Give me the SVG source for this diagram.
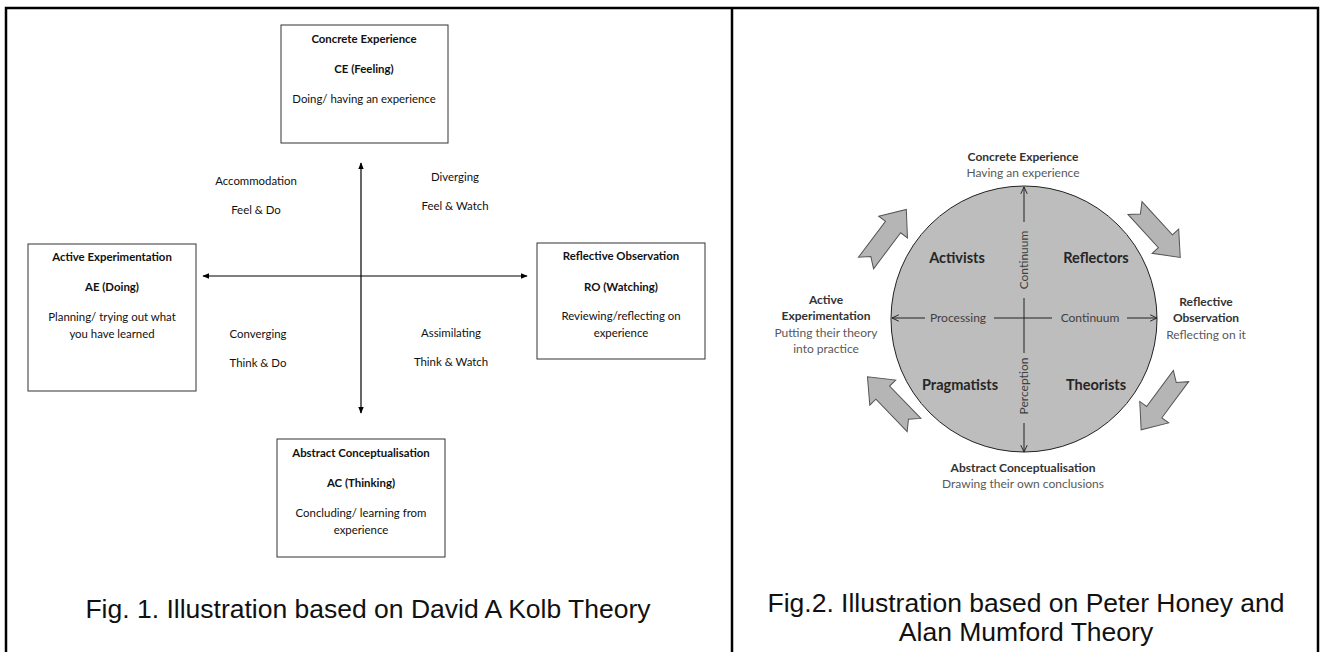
<svg xmlns="http://www.w3.org/2000/svg" width="1320" height="652" viewBox="0 0 1320 652">
<defs>
<style>
.frame{fill:none;stroke:#000;stroke-width:2.5}
.box{fill:#fff;stroke:#333;stroke-width:1}
.t{font-family:Lato,"Liberation Sans",sans-serif;font-size:11.4px;fill:#111;text-anchor:middle}
.b{font-weight:bold}
.cap{font-family:"Liberation Sans",Arial,sans-serif;font-size:26.5px;fill:#111;text-anchor:middle}
.ln{stroke:#000;stroke-width:1.2;fill:none}
.cl{stroke:#222;stroke-width:1;fill:none}
.r{font-family:Lato,"Liberation Sans",sans-serif;text-anchor:middle}
.rh{font-size:12px;font-weight:bold;fill:#333}
.rg{font-size:12px;fill:#595959}
.q{font-size:14.5px;font-weight:bold;fill:#262626}
.ci{font-size:12px;fill:#404040}
.blk{fill:#b5b5b5;stroke:#555;stroke-width:1}
</style>
<marker id="ah" viewBox="0 0 10 10" refX="9" refY="5" markerWidth="7" markerHeight="7" orient="auto-start-reverse" markerUnits="userSpaceOnUse">
<path d="M0,1 L10,5 L0,9 Z" fill="#000"/>
</marker>
<marker id="oh" viewBox="0 0 10 10" refX="9.5" refY="5" markerWidth="8" markerHeight="8" orient="auto-start-reverse" markerUnits="userSpaceOnUse">
<path d="M1,1 L9.5,5 L1,9" fill="none" stroke="#222" stroke-width="1.2"/>
</marker>
<path id="blk" d="M0,-9.5 L45,-9.5 L45,-18 L67,0 L45,18 L45,9.5 L0,9.5 L8,0 Z"/>
</defs>

<g id="frame">
<path class="frame" d="M6,653 L6,8 L1318,8 L1318,653"/>
<line class="frame" x1="732" y1="8" x2="732" y2="653"/>
</g>

<g id="circle">
<circle cx="1024" cy="319" r="133" fill="#bdbdbd" stroke="#222" stroke-width="1"/>
</g>

<g id="connectors">
<line class="ln" x1="361" y1="163" x2="361" y2="413" marker-start="url(#ah)" marker-end="url(#ah)"/>
<line class="ln" x1="203" y1="276" x2="527" y2="276" marker-start="url(#ah)" marker-end="url(#ah)"/>
<line class="cl" x1="1024" y1="222" x2="1024" y2="187" marker-end="url(#oh)"/>
<line class="cl" x1="1024" y1="298" x2="1024" y2="353"/>
<line class="cl" x1="1024" y1="423" x2="1024" y2="452" marker-end="url(#oh)"/>
<line class="cl" x1="925" y1="318" x2="892" y2="318" marker-end="url(#oh)"/>
<line class="cl" x1="994" y1="318" x2="1052" y2="318"/>
<line class="cl" x1="1127" y1="318" x2="1157" y2="318" marker-end="url(#oh)"/>
</g>

<g id="kolb-ce">
<rect class="box" x="281" y="25" width="167" height="118"/>
<text class="t b" x="364" y="43">Concrete Experience</text>
<text class="t b" x="364" y="73">CE (Feeling)</text>
<text class="t" x="364" y="103">Doing/ having an experience</text>
</g>
<g id="kolb-ae">
<rect class="box" x="28" y="244" width="168" height="147"/>
<text class="t b" x="112" y="261">Active Experimentation</text>
<text class="t b" x="112" y="291">AE (Doing)</text>
<text class="t" x="112" y="321">Planning/ trying out what</text>
<text class="t" x="112" y="338">you have learned</text>
</g>
<g id="kolb-ro">
<rect class="box" x="537" y="243" width="168" height="116"/>
<text class="t b" x="621" y="260">Reflective Observation</text>
<text class="t b" x="621" y="291">RO (Watching)</text>
<text class="t" x="621" y="320">Reviewing/reflecting on</text>
<text class="t" x="621" y="337">experience</text>
</g>
<g id="kolb-ac">
<rect class="box" x="277" y="439" width="168" height="118"/>
<text class="t b" x="361" y="457">Abstract Conceptualisation</text>
<text class="t b" x="361" y="487">AC (Thinking)</text>
<text class="t" x="361" y="517">Concluding/ learning from</text>
<text class="t" x="361" y="534">experience</text>
</g>
<g id="kolb-quadrants">
<text class="t" x="256" y="185">Accommodation</text>
<text class="t" x="256" y="214">Feel &amp; Do</text>
<text class="t" x="455" y="181">Diverging</text>
<text class="t" x="455" y="210">Feel &amp; Watch</text>
<text class="t" x="258" y="338">Converging</text>
<text class="t" x="258" y="367">Think &amp; Do</text>
<text class="t" x="451" y="337">Assimilating</text>
<text class="t" x="451" y="366">Think &amp; Watch</text>
</g>
<g id="caption1">
<text class="cap" x="368" y="618">Fig. 1. Illustration based on David A Kolb Theory</text>
</g>

<g id="inner-labels">
<text class="r ci" transform="translate(1028,260) rotate(-90)">Continuum</text>
<text class="r ci" transform="translate(1028,386) rotate(-90)">Perception</text>
<text class="r ci" x="958" y="322">Processing</text>
<text class="r ci" x="1090" y="322">Continuum</text>
<text class="r q" x="957" y="263">Activists</text>
<text class="r q" x="1096" y="263">Reflectors</text>
<text class="r q" x="960" y="390">Pragmatists</text>
<text class="r q" x="1096" y="390">Theorists</text>
</g>
<g id="hm-ce">
<text class="r rh" x="1023" y="161">Concrete Experience</text>
<text class="r rg" x="1023" y="177">Having an experience</text>
</g>
<g id="hm-ae">
<text class="r rh" x="826" y="304">Active</text>
<text class="r rh" x="826" y="320">Experimentation</text>
<text class="r rg" x="826" y="337">Putting their theory</text>
<text class="r rg" x="826" y="353">into practice</text>
</g>
<g id="hm-ro">
<text class="r rh" x="1206" y="306">Reflective</text>
<text class="r rh" x="1206" y="322">Observation</text>
<text class="r rg" x="1206" y="339">Reflecting on it</text>
</g>
<g id="hm-ac">
<text class="r rh" x="1023" y="472">Abstract Conceptualisation</text>
<text class="r rg" x="1023" y="488">Drawing their own conclusions</text>
</g>
<g id="cycle-arrows">
<use href="#blk" class="blk" transform="translate(866,263) rotate(-53)"/>
<use href="#blk" class="blk" transform="translate(1135,208) rotate(47.5)"/>
<use href="#blk" class="blk" transform="translate(1181,376) rotate(126.5)"/>
<use href="#blk" class="blk" transform="translate(914,425) rotate(-134)"/>
</g>
<g id="caption2">
<text class="cap" x="1026" y="612">Fig.2. Illustration based on Peter Honey and</text>
<text class="cap" x="1026" y="641">Alan Mumford Theory</text>
</g>
</svg>
